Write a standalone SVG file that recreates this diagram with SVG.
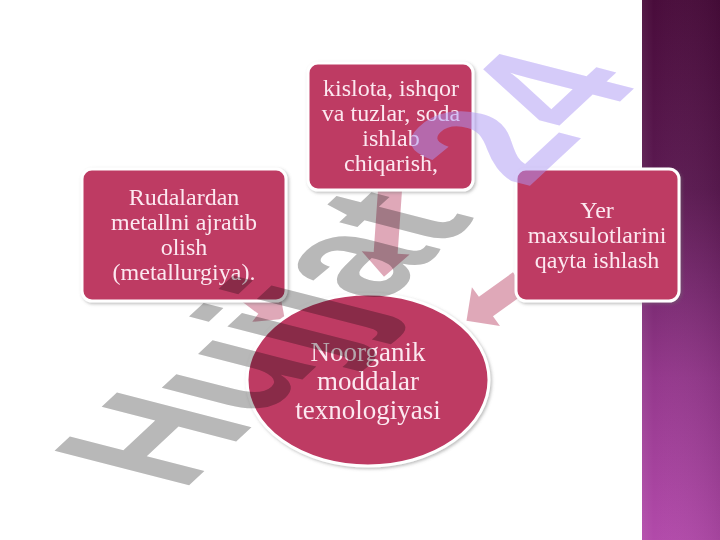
<svg xmlns="http://www.w3.org/2000/svg" width="720" height="540" viewBox="0 0 720 540">
<defs>
<linearGradient id="panel" x1="0" y1="0" x2="0" y2="1">
<stop offset="0" stop-color="#490c3b"/>
<stop offset="0.35" stop-color="#5c1a52"/>
<stop offset="0.7" stop-color="#94388c"/>
<stop offset="1" stop-color="#b24aaa"/>
</linearGradient>
<linearGradient id="panelH" x1="0" y1="0" x2="1" y2="0">
<stop offset="0" stop-color="#ffffff" stop-opacity="0.06"/>
<stop offset="0.15" stop-color="#ffffff" stop-opacity="0"/>
<stop offset="1" stop-color="#000000" stop-opacity="0.08"/>
</linearGradient>
<filter id="sh" x="-10%" y="-10%" width="125%" height="125%">
<feDropShadow dx="1.5" dy="1.5" stdDeviation="1.5" flood-color="#707070" flood-opacity="0.45"/>
</filter>
</defs>
<style>
.node{fill:#be3a63;stroke:#ffffff;stroke-width:3;filter:url(#sh)}
.lbl{font-family:"Liberation Serif","Times New Roman",serif;font-size:24px;fill:#fce8f0;text-anchor:middle}
.big{font-size:27px}
.arr{fill:#dc9fb0;opacity:0.9}
.wm{font-family:"Liberation Sans",Arial,sans-serif;font-weight:bold;font-size:100px}
</style>
<rect width="720" height="540" fill="#ffffff"/>
<rect x="642" y="0" width="78" height="540" fill="url(#panel)"/>
<rect x="642" y="0" width="78" height="540" fill="url(#panelH)"/>
<g id="connectors">
<polygon class="arr" transform="translate(390,190) rotate(93.95)" points="0,-12 63,-12 63,-24 87,0 63,24 63,12 0,12"/>
<polygon class="arr" transform="translate(520,282) rotate(144.16)" points="0,-12 42,-12 42,-24 66,0 42,24 42,12 0,12"/>
<polygon class="arr" transform="translate(240,285) rotate(37.07)" points="0,-12 32,-12 32,-22 56,0 32,22 32,12 0,12"/>
</g>
<g id="node-top">
<rect class="node" x="308" y="63" width="165" height="127" rx="10"/>
<text class="lbl" x="391" y="96">kislota, ishqor</text>
<text class="lbl" x="391" y="121">va tuzlar, soda</text>
<text class="lbl" x="391" y="146">ishlab</text>
<text class="lbl" x="391" y="171">chiqarish,</text>
</g>
<g id="node-left">
<rect class="node" x="82" y="169" width="204" height="132" rx="10"/>
<text class="lbl" x="184" y="205">Rudalardan</text>
<text class="lbl" x="184" y="230">metallni ajratib</text>
<text class="lbl" x="184" y="255">olish</text>
<text class="lbl" x="184" y="280">(metallurgiya).</text>
</g>
<g id="node-right">
<rect class="node" x="516" y="169" width="163" height="132" rx="10"/>
<text class="lbl" x="597" y="218">Yer</text>
<text class="lbl" x="597" y="243">maxsulotlarini</text>
<text class="lbl" x="597" y="268">qayta ishlash</text>
</g>
<g id="node-center">
<ellipse class="node" cx="368" cy="380" rx="121" ry="86"/>
<text class="lbl big" x="368" y="361">Noorganik</text>
<text class="lbl big" x="368" y="390">moddalar</text>
<text class="lbl big" x="368" y="419">texnologiyasi</text>
</g>
<g id="watermark">
<text class="wm" transform="matrix(1.06 -0.99 1.955 0.503 182 492)" fill="#b8b8b8" style="mix-blend-mode:multiply">Hujjat</text>
<text class="wm" transform="matrix(1.06 -0.99 1.955 0.503 182 492)" x="310" y="8" fill="#ad98f5" opacity="0.5">24</text>
</g>
</svg>
